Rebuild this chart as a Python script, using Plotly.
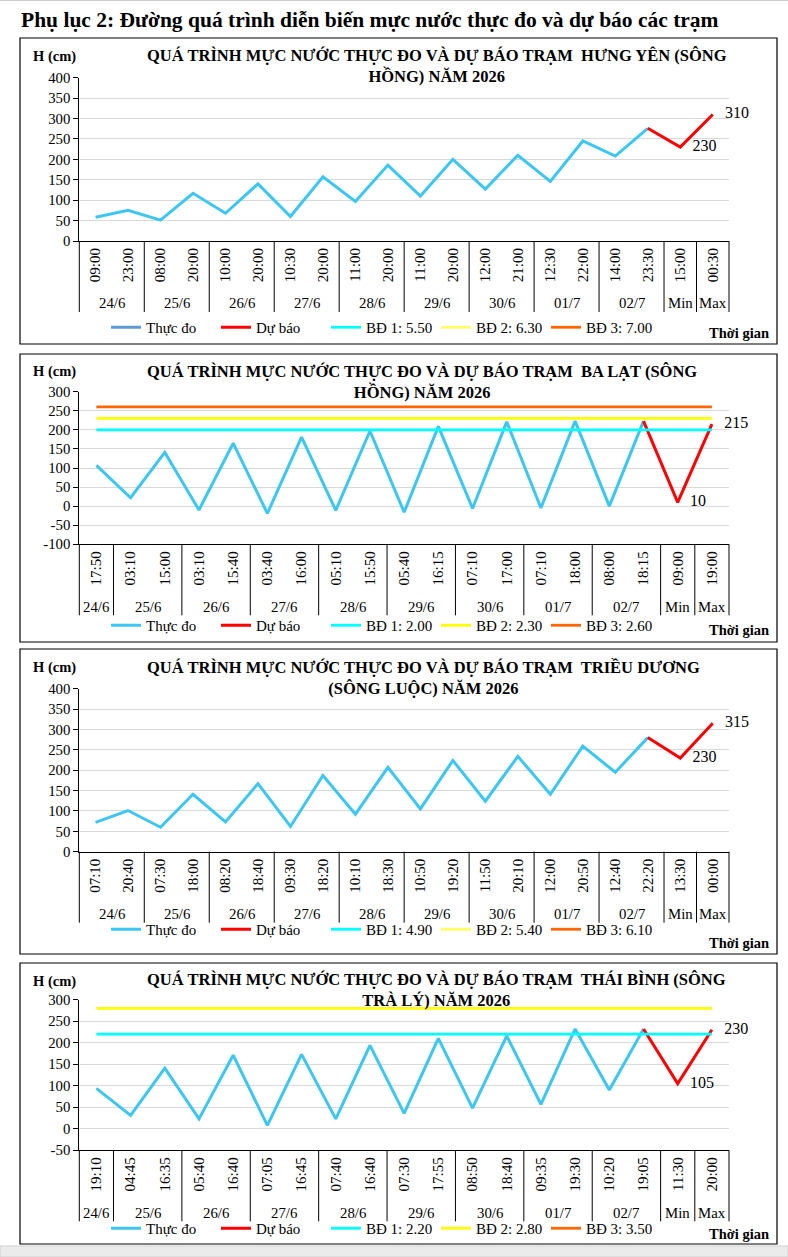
import plotly.graph_objects as go

# ---- Trạm Hưng Yên (sông Hồng)
hy_dates = ["24/6", "24/6", "25/6", "25/6", "26/6", "26/6", "27/6", "27/6", "28/6", "28/6",
            "29/6", "29/6", "30/6", "30/6", "01/7", "01/7", "02/7", "02/7", "Min", "Max"]
hy_times = ["09:00", "23:00", "08:00", "20:00", "10:00", "20:00", "10:30", "20:00", "11:00", "20:00",
            "11:00", "20:00", "12:00", "21:00", "12:30", "22:00", "14:00", "23:30", "15:00", "00:30"]
hy_obs = [58, 75, 51, 117, 68, 140, 60, 157, 97, 186, 110, 200, 127, 210, 146, 245, 208, 276]
hy_fc = [230, 310]
hy_bd = [550, 630, 700]

# ---- Trạm Ba Lạt (sông Hồng)
bl_dates = ["24/6", "25/6", "25/6", "26/6", "26/6", "27/6", "27/6", "28/6", "28/6",
            "29/6", "29/6", "30/6", "30/6", "01/7", "01/7", "02/7", "02/7", "Min", "Max"]
bl_times = ["17:50", "03:10", "15:00", "03:10", "15:40", "03:40", "16:00", "05:10", "15:50",
            "05:40", "16:15", "07:10", "17:00", "07:10", "18:00", "08:00", "18:15", "09:00", "19:00"]
bl_obs = [107, 22, 141, -10, 165, -19, 181, -11, 197, -16, 209, -6, 221, -5, 223, 0, 223]
bl_fc = [10, 215]
bl_bd = [200, 230, 260]

# ---- Trạm Triều Dương (sông Luộc)
td_dates = ["24/6", "24/6", "25/6", "25/6", "26/6", "26/6", "27/6", "27/6", "28/6", "28/6",
            "29/6", "29/6", "30/6", "30/6", "01/7", "01/7", "02/7", "02/7", "Min", "Max"]
td_times = ["07:10", "20:40", "07:30", "18:00", "08:20", "18:40", "09:30", "18:20", "10:10", "18:30",
            "10:50", "19:20", "11:50", "20:10", "12:00", "20:50", "12:40", "22:20", "13:30", "00:00"]
td_obs = [72, 101, 60, 141, 73, 167, 62, 187, 92, 207, 105, 224, 124, 234, 141, 259, 195, 280]
td_fc = [230, 315]
td_bd = [490, 540, 610]

# ---- Trạm Thái Bình (sông Trà Lý)
tb_dates = ["24/6", "25/6", "25/6", "26/6", "26/6", "27/6", "27/6", "28/6", "28/6",
            "29/6", "29/6", "30/6", "30/6", "01/7", "01/7", "02/7", "02/7", "Min", "Max"]
tb_times = ["19:10", "04:45", "16:35", "05:40", "16:40", "07:05", "16:45", "07:40", "16:40",
            "07:30", "17:55", "08:50", "18:40", "09:35", "19:30", "10:20", "19:05", "11:30", "20:00"]
tb_obs = [94, 31, 141, 23, 171, 8, 173, 23, 194, 36, 210, 48, 216, 57, 232, 90, 232]
tb_fc = [105, 230]
tb_bd = [220, 280, 350]

titles = [
    "QUÁ TRÌNH MỰC NƯỚC THỰC ĐO VÀ DỰ BÁO TRẠM  HƯNG YÊN (SÔNG<br>HỒNG) NĂM 2026",
    "QUÁ TRÌNH MỰC NƯỚC THỰC ĐO VÀ DỰ BÁO TRẠM  BA LẠT (SÔNG<br>HỒNG) NĂM 2026",
    "QUÁ TRÌNH MỰC NƯỚC THỰC ĐO VÀ DỰ BÁO TRẠM  TRIỀU DƯƠNG<br>(SÔNG LUỘC) NĂM 2026",
    "QUÁ TRÌNH MỰC NƯỚC THỰC ĐO VÀ DỰ BÁO TRẠM  THÁI BÌNH (SÔNG<br>TRÀ LÝ) NĂM 2026",
]
y_ranges = [[0, 400], [-100, 300], [0, 400], [-50, 300]]
Y_STEP = 50

W, H = 788, 1257
FONT = "Liberation Serif, Times New Roman, serif"
C_OBS = "#3CC6F2"
C_FC = "#FF0000"
C_BD = ["#00FFFF", "#FFFF00", "#FF6600"]


def px(x):
    return x / W


def py(y):
    return 1 - y / H


# panel geometry in pixels
PLOT_L, PLOT_R = 79.3, 729
boxes = [(38, 344), (354, 642), (649, 954), (963, 1244)]
plot_tb = [(77.7, 241), (391.7, 544.3), (688.7, 851.7), (999.7, 1150.3)]
title_y = [65.5, 381.5, 677.7, 990]
hcm_y = [56.7, 372, 667.7, 981]
legend_y = [327.5, 625.5, 929.5, 1228.5]
tg_y = [333, 630, 942.7, 1234]


def groups(dates):
    out = []
    for i, d in enumerate(dates):
        if out and out[-1][0] == d:
            out[-1][2] += 1
        else:
            out.append([d, i, 1])
    return out


panels = [
    (hy_dates, hy_times, hy_obs, hy_fc, hy_bd),
    (bl_dates, bl_times, bl_obs, bl_fc, bl_bd),
    (td_dates, td_times, td_obs, td_fc, td_bd),
    (tb_dates, tb_times, tb_obs, tb_fc, tb_bd),
]

fig = go.Figure()
shapes = []
annotations = []

for k, (dates, times, obs, fc, bd) in enumerate(panels):
    n = k + 1
    sfx = "" if n == 1 else str(n)
    xa, ya = "x" + sfx, "y" + sfx
    lg = "legend" + sfx
    idx = list(range(len(dates)))
    nobs = len(obs)

    # excel quirk: first chart shows a darker legend swatch for "Thực đo"
    if k == 0:
        fig.add_trace(go.Scatter(x=[None], y=[None], mode="lines", name="Thực đo",
                                 line=dict(color="#5B9BD5", width=3),
                                 xaxis=xa, yaxis=ya, legend=lg))
    fig.add_trace(go.Scatter(x=idx[:nobs], y=obs, mode="lines", name="Thực đo",
                             line=dict(color=C_OBS, width=3), showlegend=(k != 0),
                             xaxis=xa, yaxis=ya, legend=lg))
    fig.add_trace(go.Scatter(x=idx[nobs - 1:], y=[obs[-1]] + fc, mode="lines", name="Dự báo",
                             line=dict(color=C_FC, width=3),
                             xaxis=xa, yaxis=ya, legend=lg))
    for j, v in enumerate(bd):
        col = C_BD[j]
        if j == 1 and k in (0, 2):
            col = "#FFFF66"
        fig.add_trace(go.Scatter(x=[idx[0], idx[-1]], y=[v, v], mode="lines",
                                 name=f"BĐ {j + 1}: {v / 100:.2f}",
                                 line=dict(color=col, width=2.8),
                                 xaxis=xa, yaxis=ya, legend=lg))
    # Min / Max value labels
    fig.add_trace(go.Scatter(x=idx[nobs:], y=fc, mode="markers+text",
                             text=[str(v) for v in fc], textposition="middle right",
                             textfont=dict(family=FONT, size=16, color="black"),
                             marker=dict(size=18, color="rgba(0,0,0,0)"),
                             cliponaxis=False, showlegend=False, hoverinfo="skip",
                             xaxis=xa, yaxis=ya, legend=lg))

    top, bot = plot_tb[k]
    lo, hi = y_ranges[k]
    yticks = list(range(lo, hi + 1, Y_STEP))
    fig.update_layout({
        "xaxis" + sfx: dict(domain=[px(PLOT_L), px(PLOT_R)], anchor=ya,
                            range=[-0.5, len(dates) - 0.5], tickvals=idx, ticktext=times,
                            tickangle=-90, ticks="", showgrid=False, zeroline=False,
                            showline=True, linecolor="black", linewidth=1,
                            tickfont=dict(family=FONT, size=15, color="black")),
        # ascii hyphen for negatives, as in the source chart
        "yaxis" + sfx: dict(domain=[py(bot), py(top)], anchor=xa, range=[lo, hi],
                            tickvals=yticks, ticktext=[str(v) for v in yticks],
                            showgrid=True, gridcolor="#D9D9D9", zeroline=False,
                            showline=True, linecolor="black", linewidth=1,
                            ticks="outside", ticklen=5, tickcolor="black",
                            tickfont=dict(family=FONT, size=14.8, color="black")),
        lg: dict(orientation="h", x=px(106), xanchor="left",
                 y=py(legend_y[k]), yanchor="middle", bgcolor="rgba(0,0,0,0)",
                 font=dict(family=FONT, size=15, color="black"),
                 entrywidth=65, entrywidthmode="pixels"),
    })

    # second level x labels (dates) with dividers
    depth = bot + 71
    for d, start, cnt in groups(dates):
        shapes.append(dict(type="line", xref=xa + " domain", yref="paper",
                           x0=start / len(dates), x1=start / len(dates),
                           y0=py(bot), y1=py(depth), line=dict(color="black", width=1)))
        annotations.append(dict(text=d, xref=xa, yref="paper", x=start + (cnt - 1) / 2,
                                y=py(bot + 62.5), showarrow=False, yanchor="middle",
                                font=dict(family=FONT, size=14.8, color="black")))
    shapes.append(dict(type="line", xref=xa + " domain", yref="paper", x0=1, x1=1,
                       y0=py(bot), y1=py(depth), line=dict(color="black", width=1)))

    # panel frame
    b0, b1 = boxes[k]
    shapes.append(dict(type="rect", xref="paper", yref="paper", x0=px(20), x1=px(777),
                       y0=py(b1), y1=py(b0), line=dict(color="black", width=1.2),
                       layer="below"))
    annotations.append(dict(text="<b>" + titles[k] + "</b>", xref="paper", yref="paper",
                            x=px(145), y=py(title_y[k]), xanchor="left", yanchor="middle",
                            align="center", showarrow=False,
                            font=dict(family=FONT, size=16.5, color="black")))
    annotations.append(dict(text="<b>H (cm)</b>", xref="paper", yref="paper",
                            x=px(31), y=py(hcm_y[k]), xanchor="left", yanchor="middle",
                            showarrow=False, font=dict(family=FONT, size=14.5, color="black")))
    annotations.append(dict(text="<b>Thời gian</b>", xref="paper", yref="paper",
                            x=px(771), y=py(tg_y[k]), xanchor="right", yanchor="middle",
                            showarrow=False, font=dict(family=FONT, size=14.5, color="black")))

annotations.append(dict(text="<b>Phụ lục 2: Đường quá trình diễn biến mực nước thực đo và dự báo các trạm</b>",
                        xref="paper", yref="paper", x=px(19), y=py(19.5), xanchor="left",
                        yanchor="middle", showarrow=False,
                        font=dict(family=FONT, size=21.5, color="black")))

# document edges seen in the screenshot
shapes.append(dict(type="line", xref="paper", yref="paper", x0=0, x1=1, y0=py(0.5), y1=py(0.5),
                   line=dict(color="#CCCCCC", width=1)))
shapes.append(dict(type="rect", xref="paper", yref="paper", x0=0, x1=1, y0=0, y1=py(1246),
                   fillcolor="#EBEBEB", line=dict(color="#D0D0D0", width=1), layer="below"))

fig.update_layout(width=W, height=H, margin=dict(l=0, r=0, t=0, b=0, autoexpand=False),
                  paper_bgcolor="white", plot_bgcolor="white",
                  font=dict(family=FONT, color="black"),
                  shapes=shapes, annotations=annotations)

# page body has a default 8px margin; drop it so the figure fills the window
fig.write_html("out.html", config={"displayModeBar": False},
               post_script="document.body.style.margin='0';")
